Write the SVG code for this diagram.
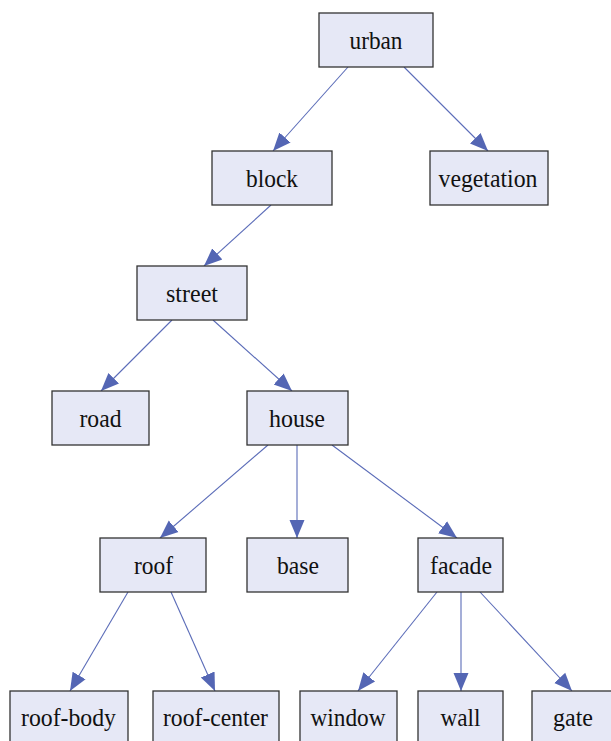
<svg xmlns="http://www.w3.org/2000/svg" width="611" height="741" viewBox="0 0 611 741">
<defs>
<style>
.n rect{fill:#e6e8f6;stroke:#333;stroke-width:1.3}
.n text{font-family:"Liberation Serif",serif;font-size:26px;fill:#111;text-anchor:middle}
.e line{stroke:#5b6cb8;stroke-width:1.1;marker-end:url(#ah)}
</style>
<marker id="ah" markerUnits="userSpaceOnUse" markerWidth="20" markerHeight="20" viewBox="0 0 20 20" refX="18" refY="10" orient="auto">
<path d="M0,2.5 L18,10 L0,17.5 Z" fill="#5466b4"/>
</marker>
</defs>
<rect width="611" height="741" fill="#fff"/>
<g id="edges" class="e">
<line x1="348" y1="67" x2="273" y2="151"/>
<line x1="404" y1="67" x2="488" y2="151"/>
<line x1="271" y1="205" x2="204" y2="266"/>
<line x1="172" y1="320" x2="101" y2="391"/>
<line x1="213" y1="320" x2="292" y2="391"/>
<line x1="268" y1="445" x2="160" y2="538"/>
<line x1="297" y1="445" x2="297" y2="538"/>
<line x1="332" y1="445" x2="457" y2="538"/>
<line x1="128" y1="592" x2="70" y2="691"/>
<line x1="171" y1="592" x2="215" y2="691"/>
<line x1="437" y1="592" x2="358" y2="691"/>
<line x1="461" y1="592" x2="461" y2="691"/>
<line x1="480" y1="592" x2="572" y2="691"/>
</g>
<g id="urban" class="n"><rect x="319" y="13" width="114" height="54"/><text x="376" y="49" style="font-family:'Liberation Serif',serif" textLength="53" lengthAdjust="spacingAndGlyphs">urban</text></g>
<g id="block" class="n"><rect x="212" y="151" width="120" height="54"/><text x="272" y="187" style="font-family:'Liberation Serif',serif" textLength="52" lengthAdjust="spacingAndGlyphs">block</text></g>
<g id="vegetation" class="n"><rect x="430" y="151" width="118" height="54"/><text x="488" y="187" style="font-family:'Liberation Serif',serif" textLength="99" lengthAdjust="spacingAndGlyphs">vegetation</text></g>
<g id="street" class="n"><rect x="137" y="266" width="110" height="54"/><text x="192" y="302" style="font-family:'Liberation Serif',serif" textLength="52" lengthAdjust="spacingAndGlyphs">street</text></g>
<g id="road" class="n"><rect x="52" y="391" width="97" height="54"/><text x="100.5" y="427" style="font-family:'Liberation Serif',serif" textLength="42" lengthAdjust="spacingAndGlyphs">road</text></g>
<g id="house" class="n"><rect x="247" y="391" width="101" height="54"/><text x="297" y="427" style="font-family:'Liberation Serif',serif" textLength="56" lengthAdjust="spacingAndGlyphs">house</text></g>
<g id="roof" class="n"><rect x="100" y="538" width="106" height="54"/><text x="153.5" y="574" style="font-family:'Liberation Serif',serif" textLength="39" lengthAdjust="spacingAndGlyphs">roof</text></g>
<g id="base" class="n"><rect x="247" y="538" width="101" height="54"/><text x="298" y="574" style="font-family:'Liberation Serif',serif" textLength="42" lengthAdjust="spacingAndGlyphs">base</text></g>
<g id="facade" class="n"><rect x="418" y="538" width="85" height="54"/><text x="461" y="574" style="font-family:'Liberation Serif',serif" textLength="62" lengthAdjust="spacingAndGlyphs">facade</text></g>
<g id="roof-body" class="n"><rect x="10" y="691" width="118" height="60"/><text x="68.5" y="726" style="font-family:'Liberation Serif',serif" textLength="95" lengthAdjust="spacingAndGlyphs">roof-body</text></g>
<g id="roof-center" class="n"><rect x="153" y="691" width="126" height="60"/><text x="215.5" y="726" style="font-family:'Liberation Serif',serif" textLength="105" lengthAdjust="spacingAndGlyphs">roof-center</text></g>
<g id="window" class="n"><rect x="300" y="691" width="97" height="60"/><text x="348" y="726" style="font-family:'Liberation Serif',serif" textLength="75" lengthAdjust="spacingAndGlyphs">window</text></g>
<g id="wall" class="n"><rect x="418" y="691" width="85" height="60"/><text x="460.5" y="726" style="font-family:'Liberation Serif',serif" textLength="40" lengthAdjust="spacingAndGlyphs">wall</text></g>
<g id="gate" class="n"><rect x="532" y="691" width="90" height="60"/><text x="573" y="726" style="font-family:'Liberation Serif',serif" textLength="40" lengthAdjust="spacingAndGlyphs">gate</text></g>
</svg>
